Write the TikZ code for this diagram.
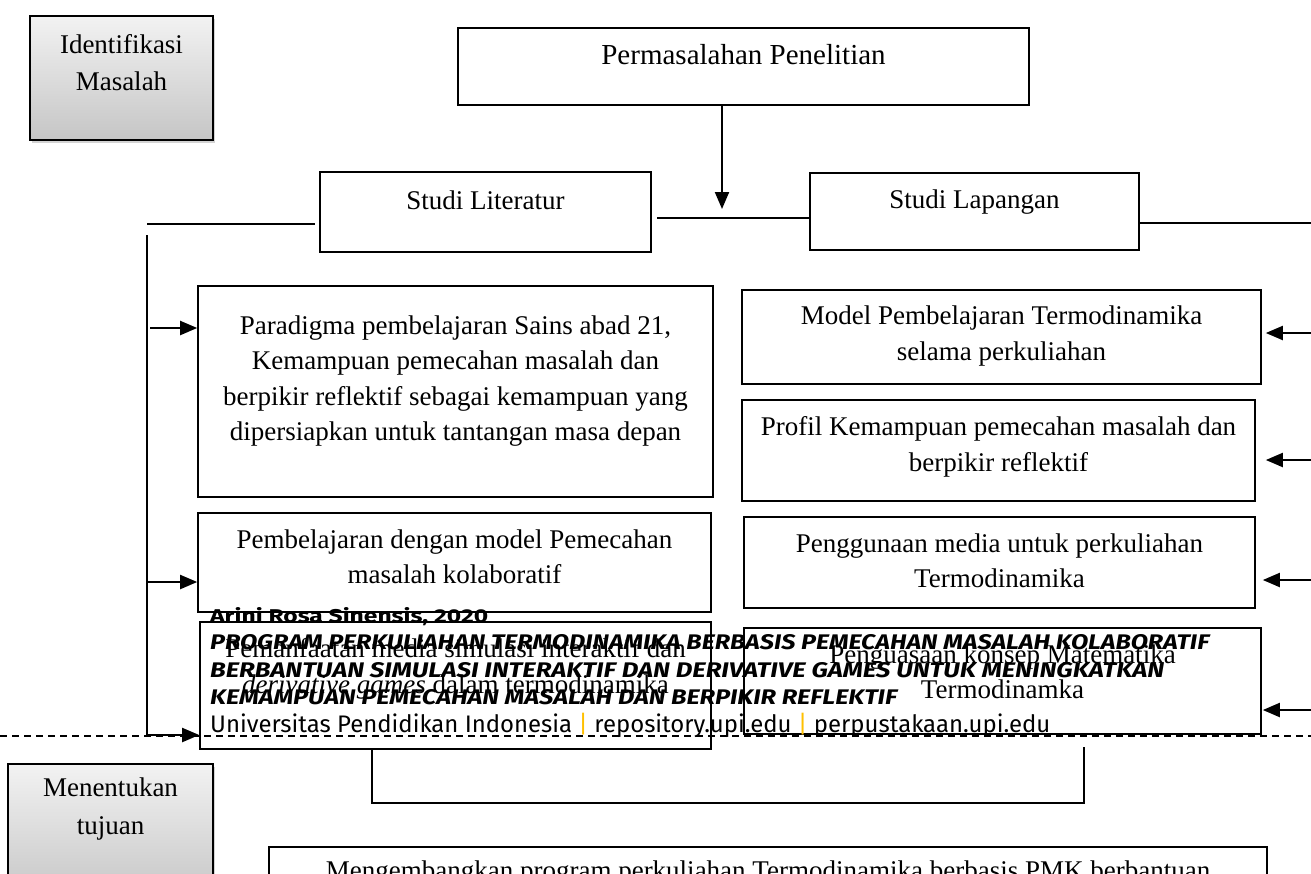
\documentclass[tikz,border=0pt]{standalone}
\usepackage{fontspec}
\setmainfont{Liberation Serif}
\newfontfamily\wmfont{Fira Sans}
\usepackage{graphicx}
\usetikzlibrary{arrows.meta,shadows}
\definecolor{wmyellow}{HTML}{FFC000}
\begin{document}
\begin{tikzpicture}[x=1pt,y=-1pt,
  box/.style={draw=black, line width=1.6pt, fill=white, inner sep=0pt},
  graybox/.style={draw=black, line width=1.6pt, top color=gray!10, bottom color=gray!45,
     drop shadow={shadow xshift=2pt, shadow yshift=-3pt, opacity=0.35}, inner sep=0pt},
  txt/.style={font=\fontsize{27}{35.5}\selectfont, align=center, inner sep=0pt},
  conn/.style={line width=2pt},
  arr/.style={line width=2pt, -{Triangle[length=17pt,width=14pt]}},
  wm/.style={anchor=base west, inner sep=0pt}
]
\useasboundingbox (0,0) rectangle (1311,873);
\clip (0,0) rectangle (1311,873);

% side labels
\node[graybox, minimum width=183pt, minimum height=124pt] (ident) at (121.5,78) {};
\node[txt, font=\fontsize{27}{37}\selectfont] (identT) at (121.5,63) {Identifikasi\\Masalah};
\node[graybox, minimum width=205pt, minimum height=136pt] (menent) at (110.5,832) {};
\node[txt, font=\fontsize{27}{38}\selectfont] (menentT) at (110.5,809) {Menentukan\\tujuan};

% top
\node[box, minimum width=571pt, minimum height=77pt] (perm) at (743.5,66.5) {};
\node[txt, font=\fontsize{29}{35}\selectfont] (permT) at (743.5,55) {Permasalahan Penelitian};
\node[box, minimum width=331pt, minimum height=80pt] (lit) at (485.5,212) {};
\node[txt] (litT) at (485.5,200) {Studi Literatur};
\node[box, minimum width=329pt, minimum height=77pt] (lap) at (974.5,211.5) {};
\node[txt] (lapT) at (974.5,202) {Studi Lapangan};

% left column
\node[box, minimum width=515pt, minimum height=211pt] (para) at (455.5,391.5) {};
\node[txt] (paraT) at (455.5,381) {Paradigma pembelajaran Sains abad 21,\\Kemampuan pemecahan masalah dan\\berpikir reflektif sebagai kemampuan yang\\dipersiapkan untuk tantangan masa depan};
\node[box, minimum width=513pt, minimum height=99pt] (pemb) at (454.5,562.5) {};
\node[txt] (pembT) at (454.5,557) {Pembelajaran dengan model Pemecahan\\masalah kolaboratif};
\node[box, minimum width=511pt, minimum height=127pt] (peman) at (455.5,685.5) {};
\node[txt] (pemanT) at (455.5,669) {Pemanfaatan media simulasi interaktif dan\\\textit{derivative games} dalam termodinamika};

% right column
\node[box, minimum width=519pt, minimum height=94pt] (model) at (1001.5,337) {};
\node[txt] (modelT) at (1001.5,336) {Model Pembelajaran Termodinamika\\selama perkuliahan};
\node[box, minimum width=513pt, minimum height=101pt] (profil) at (998.5,450.5) {};
\node[txt] (profilT) at (998.5,447) {Profil Kemampuan pemecahan masalah dan\\berpikir reflektif};
\node[box, minimum width=511pt, minimum height=91pt] (pengg) at (999.5,562.5) {};
\node[txt] (penggT) at (999.5,561) {Penggunaan media untuk perkuliahan\\Termodinamika};
\node[box, minimum width=517pt, minimum height=106pt] (pengu) at (1002.5,681) {};
\node[txt] (penguT) at (1002.5,672) {Penguasaan konsep Matematika\\Termodinamka};

% bottom goal box
\node[box, minimum width=998pt, minimum height=66pt] (goal) at (768,880) {};
\node[txt] (goalT) at (768,873) {Mengembangkan program perkuliahan Termodinamika berbasis PMK berbantuan};

% connectors top
\coordinate (jn) at (722,209);
\draw[arr] (perm.south -| jn) -- (jn);
\coordinate (hL) at (657,218);
\draw[conn] (hL) -- (hL -| lap.west);
\coordinate (tl1) at (147,224);
\draw[conn, shorten >=4pt] (tl1) -- (tl1 -| lit.west);
\coordinate (rt) at (1311,223);
\draw[conn] (lap.east |- rt) -- (rt);

% left trunk
\coordinate (trTop) at (147,235);
\coordinate (trBot) at (147,735);
\draw[conn] (trTop) -- (trBot);
\draw[arr] (trBot) -- (trBot -| peman.west);
\coordinate (la1) at (150,328);
\draw[arr] (la1) -- (la1 -| para.west);
\coordinate (la2) at (147,582);
\draw[arr] (la2) -- (la2 -| pemb.west);

% right arrows
\coordinate (ra1) at (1311,333);
\draw[arr, shorten >=4pt] (ra1) -- (ra1 -| model.east);
\coordinate (ra2) at (1311,460);
\draw[arr, shorten >=10pt] (ra2) -- (ra2 -| profil.east);
\coordinate (ra3) at (1311,580);
\draw[arr, shorten >=7pt] (ra3) -- (ra3 -| pengg.east);
\coordinate (ra4) at (1311,710);
\draw[arr, shorten >=1pt] (ra4) -- (ra4 -| pengu.east);

% bottom bracket
\coordinate (bl) at (372,803);
\coordinate (br) at (1084,803);
\coordinate (brT) at (1084,747);
\draw[conn] (peman.south -| bl) -- (bl) -- (br) -- (brT);

% dashed separator
\coordinate (dL) at (0,736);
\coordinate (dR) at (1311,736);
\draw[line width=1.5pt, dash pattern=on 7pt off 5pt] (dL) -- (dR);

% watermark
\node[wm] (wm1) at (210,622) {\resizebox{278pt}{15pt}{\wmfont\bfseries Arini Rosa Sinensis, 2020}};
\node[wm] (wm2) at (210,649) {\resizebox{999pt}{15pt}{\wmfont\bfseries\itshape PROGRAM PERKULIAHAN TERMODINAMIKA BERBASIS PEMECAHAN MASALAH KOLABORATIF}};
\node[wm] (wm3) at (210,677) {\resizebox{954pt}{15pt}{\wmfont\bfseries\itshape BERBANTUAN SIMULASI INTERAKTIF DAN DERIVATIVE GAMES UNTUK MENINGKATKAN}};
\node[wm] (wm4) at (210,704.5) {\resizebox{687pt}{15pt}{\wmfont\bfseries\itshape KEMAMPUAN PEMECAHAN MASALAH DAN BERPIKIR REFLEKTIF}};
\node[wm] (wm5) at (210,732) {\resizebox{840pt}{!}{\wmfont Universitas Pendidikan Indonesia \textcolor{wmyellow}{|} repository.upi.edu \textcolor{wmyellow}{|} perpustakaan.upi.edu}};
\end{tikzpicture}
\end{document}
